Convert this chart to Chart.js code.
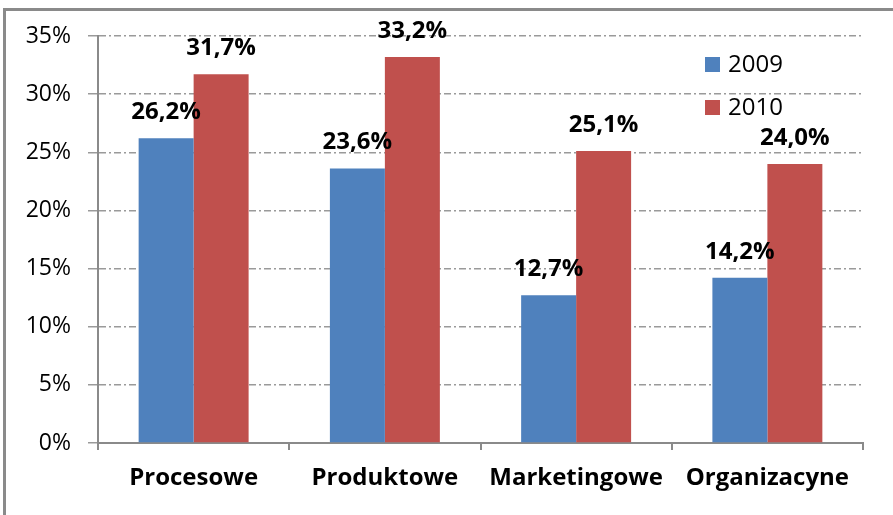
<!DOCTYPE html>
<html>
<head>
<meta charset="utf-8">
<script src="https://cdn.jsdelivr.net/npm/chart.js@4"></script>
<style>
  html, body { margin: 0; padding: 0; background: #fff; }
  .wrap { position: relative; width: 893px; height: 515px; overflow: hidden; }
  .frame {
    position: absolute; left: 3px; top: 8px; width: 1000px; height: 1000px;
    border-top: 3px solid #8a8a8a; border-left: 3px solid #8a8a8a;
  }
  canvas { position: absolute; left: 0; top: 0; }
</style>
</head>
<body>
<div class="wrap">
  <div class="frame"></div>
  <canvas id="chart" width="893" height="515"></canvas>
</div>
<script>
const categories = ["Procesowe", "Produktowe", "Marketingowe", "Organizacyne"];
const seriesNames = ["2009", "2010"];
const values2009 = [26.2, 23.6, 12.7, 14.2];
const values2010 = [31.7, 33.2, 25.1, 24.0];
const seriesColors = ["#4F81BD", "#C0504D"];

const FONT = "'Open Sans', sans-serif";

const fmt = (v) => v.toFixed(1).replace(".", ",") + "%";

// value labels above each bar
const barLabels = {
  id: "barLabels",
  afterDatasetsDraw(chart) {
    const ctx = chart.ctx;
    ctx.save();
    ctx.font = "bold 24px " + FONT;
    ctx.fillStyle = "#000";
    ctx.textAlign = "center";
    ctx.textBaseline = "middle";
    chart.data.datasets.forEach((ds, i) => {
      chart.getDatasetMeta(i).data.forEach((bar, j) => {
        ctx.fillText(fmt(ds.data[j]), bar.x, bar.y - 26);
      });
    });
    ctx.restore();
  }
};

// legend inside the plot, top right
const sideLegend = {
  id: "sideLegend",
  afterDraw(chart) {
    const ctx = chart.ctx;
    ctx.save();
    ctx.font = "24px " + FONT;
    ctx.textBaseline = "middle";
    ctx.fillStyle = "#000";
    chart.data.datasets.forEach((ds, i) => {
      const y = 57 + i * 43;
      ctx.fillStyle = ds.backgroundColor;
      ctx.fillRect(705, y, 15, 15);
      ctx.fillStyle = "#000";
      ctx.fillText(ds.label, 728, y + 8);
    });
    ctx.restore();
  }
};

new Chart(document.getElementById("chart"), {
  type: "bar",
  data: {
    labels: categories,
    datasets: [
      { label: seriesNames[0], data: values2009, backgroundColor: seriesColors[0] },
      { label: seriesNames[1], data: values2010, backgroundColor: seriesColors[1] }
    ]
  },
  options: {
    responsive: false,
    animation: false,
    layout: { padding: { top: 36, right: 30, left: 0, bottom: 0 } },
    datasets: {
      bar: { categoryPercentage: 0.575, barPercentage: 1.0 }
    },
    plugins: {
      legend: { display: false },
      tooltip: { enabled: false }
    },
    scales: {
      x: {
        grid: {
          offset: true,
          drawOnChartArea: false,
          drawTicks: true,
          tickLength: 7,
          color: "#8a8a8a",
          lineWidth: 2
        },
        border: { color: "#8a8a8a", width: 2 },
        ticks: {
          color: "#000",
          font: { family: FONT, size: 24, weight: "bold" },
          padding: 14,
          maxRotation: 0
        },
        afterFit(scale) { scale.height = 72; }
      },
      y: {
        min: 0,
        max: 35,
        grid: {
          color: "#9a9a9a",
          lineWidth: 1.5,
          tickLength: 10
        },
        border: { color: "#8a8a8a", width: 2, dash: [7, 3, 2, 3] },
        ticks: {
          stepSize: 5,
          color: "#000",
          padding: 17,
          font: { family: FONT, size: 23 },
          callback: (v) => v + "%"
        },
        afterFit(scale) { scale.width = 98; }
      }
    }
  },
  plugins: [barLabels, sideLegend]
});
</script>
</body>
</html>
